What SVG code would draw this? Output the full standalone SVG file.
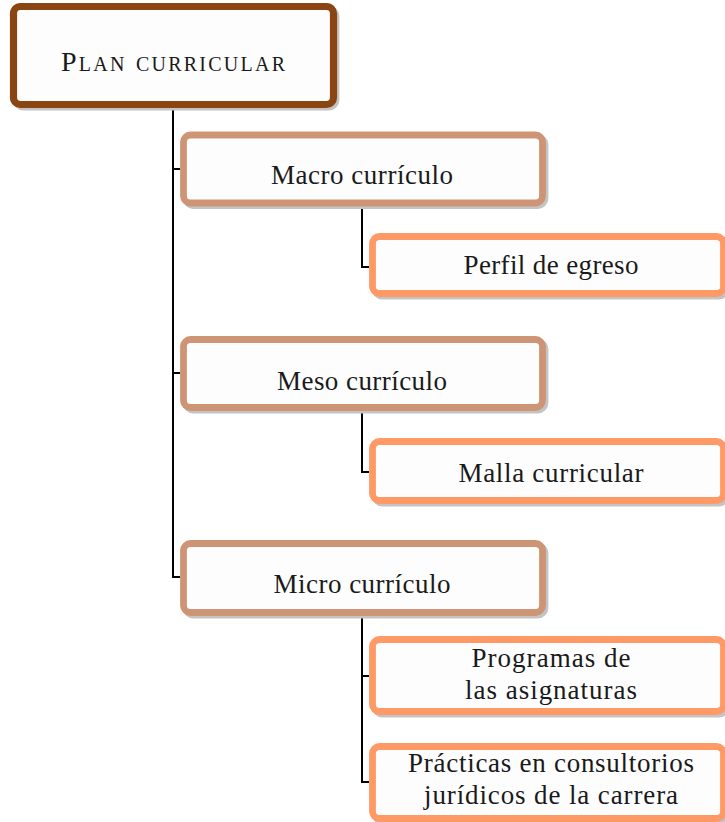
<svg xmlns="http://www.w3.org/2000/svg" width="725" height="822" viewBox="0 0 725 822">
<defs>
<style>
.sh{fill:#c4c4c4;stroke:#c4c4c4;stroke-width:6.8}
.bx{fill:#fdfdfd;stroke-width:6.8}
.root{stroke:#8b4513;stroke-width:7.2}
.mid{stroke:#cd9575}
.leaf{stroke:#ff9966}
.t{font-family:"Liberation Serif","DejaVu Serif",serif;font-size:27px;fill:#1a1a1a;text-anchor:middle}
.sc{font-variant:small-caps;font-size:28px}
.cn{fill:none;stroke:#000;stroke-width:2}
</style>
</defs>
<g id="connectors">
<polyline class="cn" points="173,108 173,577 180,577"/>
<line class="cn" x1="173" y1="169" x2="180" y2="169"/>
<line class="cn" x1="173" y1="373" x2="180" y2="373"/>
<polyline class="cn" points="362,207 362,267 369,267"/>
<polyline class="cn" points="362,411 362,472 369,472"/>
<polyline class="cn" points="362,616 362,782 369,782"/>
<line class="cn" x1="362" y1="676" x2="369" y2="676"/>
</g>
<g id="plan">
<rect class="sh" x="16" y="9" width="320" height="98" rx="7"/>
<rect class="bx root" x="13.5" y="6.5" width="320" height="98" rx="7"/>
<text class="t sc" x="173" y="71" textLength="224">Plan curricular</text>
</g>
<g id="macro">
<rect class="sh" x="186" y="137.5" width="359" height="68" rx="7"/>
<rect class="bx mid" x="183.5" y="135" width="359" height="68" rx="7"/>
<text class="t" x="362" y="184" textLength="182">Macro currículo</text>
</g>
<g id="perfil">
<rect class="sh" x="375" y="239" width="351" height="57" rx="7"/>
<rect class="bx leaf" x="372.5" y="236.5" width="351" height="57" rx="7"/>
<text class="t" x="551" y="274" textLength="175">Perfil de egreso</text>
</g>
<g id="meso">
<rect class="sh" x="186" y="342" width="359" height="68" rx="7"/>
<rect class="bx mid" x="183.5" y="339.5" width="359" height="68" rx="7"/>
<text class="t" x="362" y="390" textLength="170">Meso currículo</text>
</g>
<g id="malla">
<rect class="sh" x="375" y="444" width="351" height="59" rx="7"/>
<rect class="bx leaf" x="372.5" y="441.5" width="351" height="59" rx="7"/>
<text class="t" x="551" y="482" textLength="185">Malla curricular</text>
</g>
<g id="micro">
<rect class="sh" x="186" y="546" width="359" height="69" rx="7"/>
<rect class="bx mid" x="183.5" y="543.5" width="359" height="69" rx="7"/>
<text class="t" x="362" y="593" textLength="177">Micro currículo</text>
</g>
<g id="programas">
<rect class="sh" x="375" y="642" width="351" height="72" rx="7"/>
<rect class="bx leaf" x="372.5" y="639.5" width="351" height="72" rx="7"/>
<text class="t" x="551" y="667" textLength="159">Programas de</text>
<text class="t" x="551" y="698.5" textLength="172">las asignaturas</text>
</g>
<g id="practicas">
<rect class="sh" x="375" y="749" width="351" height="72" rx="7"/>
<rect class="bx leaf" x="372.5" y="746.5" width="351" height="72" rx="7"/>
<text class="t" x="551" y="772" textLength="286">Prácticas en consultorios</text>
<text class="t" x="551" y="803.5" textLength="254">jurídicos de la carrera</text>
</g>
</svg>
